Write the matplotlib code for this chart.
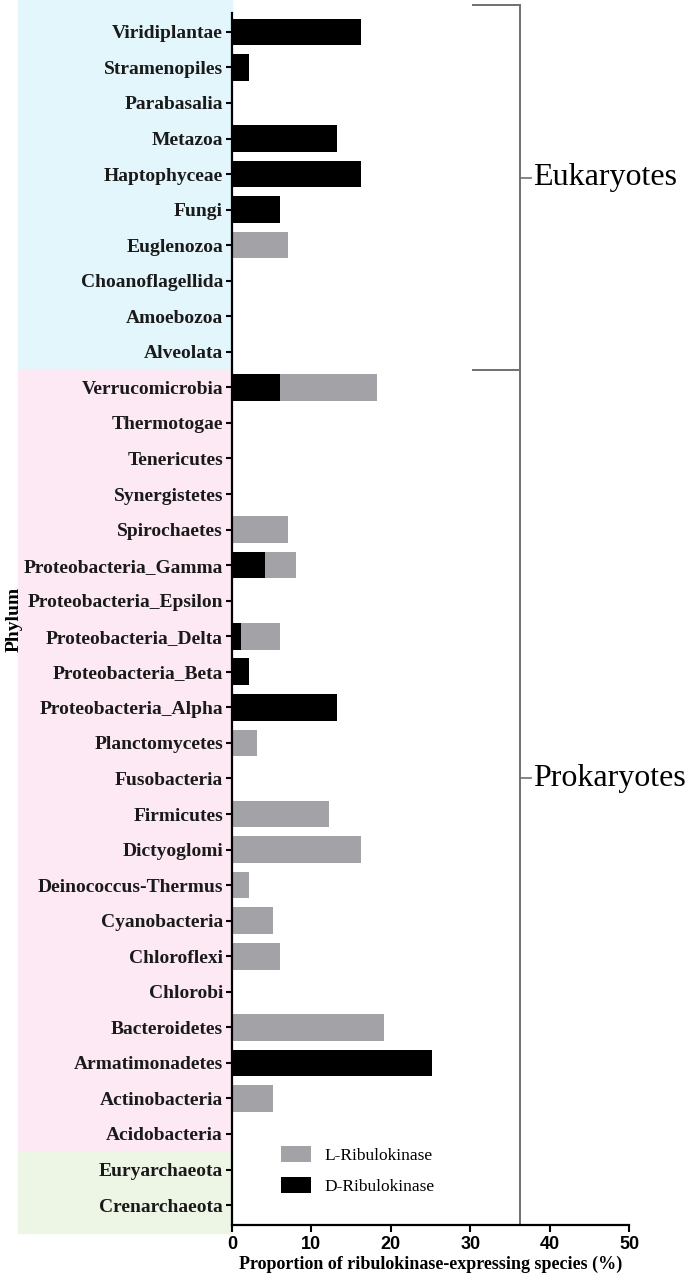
import matplotlib
matplotlib.use("Agg")
import matplotlib.pyplot as plt
from matplotlib.patches import Rectangle

# phyla, top to bottom
phyla = ["Viridiplantae", "Stramenopiles", "Parabasalia", "Metazoa", "Haptophyceae",
         "Fungi", "Euglenozoa", "Choanoflagellida", "Amoebozoa", "Alveolata",
         "Verrucomicrobia", "Thermotogae", "Tenericutes", "Synergistetes", "Spirochaetes",
         "Proteobacteria_Gamma", "Proteobacteria_Epsilon", "Proteobacteria_Delta",
         "Proteobacteria_Beta", "Proteobacteria_Alpha", "Planctomycetes", "Fusobacteria",
         "Firmicutes", "Dictyoglomi", "Deinococcus-Thermus", "Cyanobacteria", "Chloroflexi",
         "Chlorobi", "Bacteroidetes", "Armatimonadetes", "Actinobacteria", "Acidobacteria",
         "Euryarchaeota", "Crenarchaeota"]

# proportion (%) of species with each enzyme
l_ribulokinase = [0, 0, 0, 0, 0, 0, 7.1, 0, 0, 0,
                  18.2, 0, 0, 0, 7.1, 8.1, 0, 6.1, 0, 0, 3.1, 0,
                  12.2, 16.2, 2.1, 5.2, 6.1, 0, 19.2, 0, 5.2, 0,
                  0, 0]
d_ribulokinase = [16.2, 2.1, 0, 13.2, 16.2, 6.1, 0, 0, 0, 0,
                  6.1, 0, 0, 0, 0, 4.1, 0, 1.1, 2.1, 13.2, 0, 0,
                  0, 0, 0, 0, 0, 0, 0, 25.2, 0, 0,
                  0, 0]

# kingdom groups: (first row, last row, colour)
groups = [(0, 9, "#e2f6fc"), (10, 31, "#fde9f3"), (32, 33, "#edf6e5")]

W, H = 693, 1283
fig = plt.figure(figsize=(W / 100, H / 100), dpi=100)
ax = fig.add_axes([232 / W, 1 - 1225 / H, 397 / W, 1212 / H])

ypos = list(range(len(phyla)))
ax.barh(ypos, l_ribulokinase, height=0.75, color="#a3a2a6", label="L-Ribulokinase", zorder=2)
ax.barh(ypos, d_ribulokinase, height=0.75, color="black", label="D-Ribulokinase", zorder=3)

ax.set_xlim(0, 50)
ax.set_ylim(33.56, -0.53)
ax.set_xticks([0, 10, 20, 30, 40, 50])
ax.set_yticks(ypos)
ax.set_yticklabels(phyla, family="Liberation Serif", fontweight="bold", fontsize=14, color="#1a1a1a")
for lab in ax.get_xticklabels():
    lab.set_family("Liberation Sans")
    lab.set_fontweight("bold")
    lab.set_fontsize(13)
ax.tick_params(axis="y", length=4.5, width=1.5, pad=2)
ax.tick_params(axis="x", length=5, width=1.5, pad=3)
for s in ["top", "right"]:
    ax.spines[s].set_visible(False)
for s in ["left", "bottom"]:
    ax.spines[s].set_linewidth(1.6)

ax.set_xlabel("Proportion of ribulokinase-expressing species (%)", family="Liberation Serif",
              fontweight="bold", fontsize=13, labelpad=2)
ax.set_ylabel("Phylum", family="Liberation Serif", fontweight="bold", fontsize=14)
ax.yaxis.set_label_coords(-0.528, 0.5)

# background bands behind the labels
for first, last, col in groups:
    y0 = ax.transData.transform((0, last + 0.5))[1] / H
    y1 = ax.transData.transform((0, first - 0.5))[1] / H
    if first == 0:
        y1 = 1.0
    if last == len(phyla) - 1:
        y0 = 1 - 1233 / H
    fig.patches.append(Rectangle((18 / W, y0), (232 - 18) / W, y1 - y0,
                                 transform=fig.transFigure, color=col, zorder=-5))

# bracket for Eukaryotes / Prokaryotes
bx = 36.3
gray = "#707070"
ax.plot([bx, bx], [-0.75, 33.56], color=gray, lw=1.4, clip_on=False, zorder=1)
ax.plot([30.35, bx], [-0.75, -0.75], color=gray, lw=1.4, clip_on=False)
ax.plot([30.35, bx], [9.5, 9.5], color=gray, lw=1.4, clip_on=False)
for yy, name in [(4.1, "Eukaryotes"), (21.0, "Prokaryotes")]:
    ax.plot([bx, bx + 1.3], [yy, yy], color=gray, lw=1.2, clip_on=False)
    ax.text(bx + 1.6, yy, name, family="Liberation Serif", fontsize=23,
            va="center", ha="left", clip_on=False)

ax.legend(loc="lower left", bbox_to_anchor=(0.085, 0.012), frameon=False,
          prop={"family": "Liberation Serif", "size": 12.5},
          handlelength=1.7, handleheight=1.0, labelspacing=0.75, handletextpad=0.8)

fig.savefig("out.png", dpi=100)
